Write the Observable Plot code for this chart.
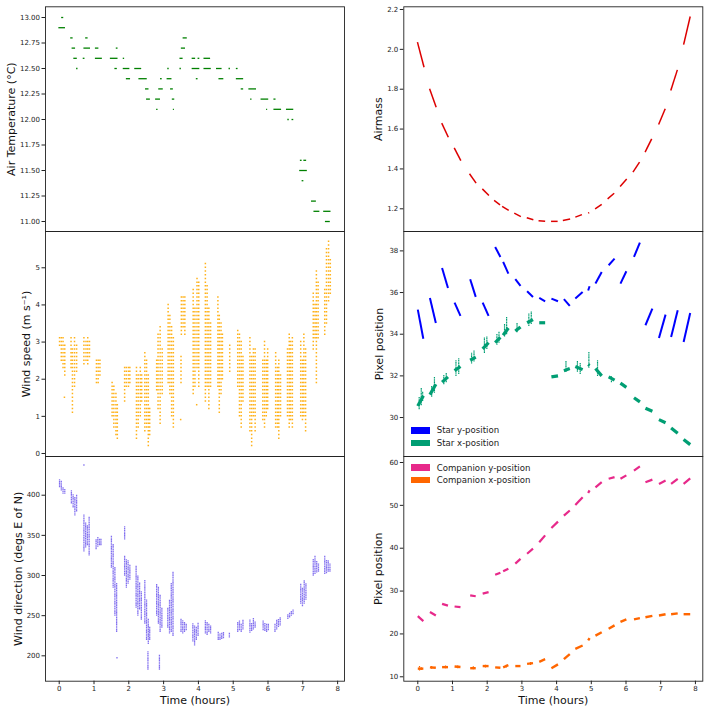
<!DOCTYPE html>
<html><head><meta charset="utf-8">
<script src="https://cdn.jsdelivr.net/npm/d3@7"></script>
<script src="https://cdn.jsdelivr.net/npm/@observablehq/plot@0.6"></script>
<style>
body{margin:0;background:#fff;}
#fig{position:relative;width:708px;height:713px;font-family:"DejaVu Sans",sans-serif;color:#222;}
#fig svg{position:absolute;overflow:visible;}
.sw{position:absolute;width:19px;height:6.6px;}
.lt{position:absolute;font-size:8.6px;line-height:10px;white-space:nowrap;color:#222;}
</style></head><body><div id="fig"></div>
<script>
// ---------- data ----------
const hourTicks = [0,1,2,3,4,5,6,7,8];
// Air temperature: horizontal runs [tStart, tEnd, °C]
const airTemp = [
[-0.01,0.18,12.9],[0.07,0.13,13.0],[0.33,0.40,12.8],[0.37,0.47,12.7],[0.42,0.52,12.6],[0.50,0.54,12.5],
[0.69,0.74,12.6],[0.71,0.90,12.7],[0.76,0.83,12.8],[1.04,1.14,12.7],[1.04,1.24,12.6],[1.47,1.69,12.6],
[1.64,1.69,12.7],[1.60,1.67,12.5],[1.84,1.88,12.6],[1.84,2.03,12.5],[1.93,2.05,12.4],[2.17,2.37,12.5],
[2.29,2.53,12.4],[2.48,2.58,12.3],[2.51,2.62,12.2],[2.77,2.91,12.2],[2.86,2.99,12.3],[2.80,2.84,12.1],
[2.91,2.96,12.4],[3.10,3.24,12.4],[3.12,3.16,12.5],[3.20,3.28,12.3],[3.25,3.32,12.2],[3.28,3.31,12.1],
[3.47,3.51,12.5],[3.47,3.56,12.6],[3.51,3.63,12.7],[3.56,3.68,12.8],[3.82,4.04,12.5],[3.82,3.92,12.6],
[3.94,3.99,12.4],[3.99,4.04,12.6],[4.16,4.35,12.6],[4.16,4.37,12.5],[4.52,4.68,12.5],[4.59,4.73,12.4],
[4.88,4.92,12.5],[5.09,5.14,12.5],[5.09,5.30,12.4],[5.23,5.30,12.3],[5.45,5.67,12.3],[5.50,5.54,12.2],
[5.80,6.02,12.2],[5.96,5.99,12.1],[6.17,6.23,12.2],[6.17,6.39,12.1],[6.53,6.74,12.1],[6.57,6.61,12.0],
[6.69,6.74,12.0],[6.91,7.13,11.5],[6.93,6.98,11.6],[7.03,7.11,11.6],[6.98,7.03,11.4],[7.25,7.39,11.2],
[7.32,7.49,11.1],[7.60,7.81,11.1],[7.65,7.79,11.0]
];
const tempTicks = [11,11.25,11.5,11.75,12,12.25,12.5,12.75,13];
// Wind speed: columns of readings [t, min, max] (m/s, 0.1 steps)
const windSpeed = [
[0.01,2.9,3.1],[0.06,2.5,3.1],[0.11,2.3,3.1],[0.16,2.1,2.9],[0.15,1.5,1.5],
[0.34,2.3,3.1],[0.38,1.1,2.8],[0.44,1.8,3.1],[0.50,2.2,2.9],
[0.71,2.4,3.1],[0.77,2.5,3.0],[0.82,2.4,3.1],[0.87,2.6,3.0],
[1.07,1.9,2.5],[1.12,1.9,2.5],[1.17,2.1,2.5],
[1.52,1.0,1.9],[1.57,0.7,1.8],[1.63,0.5,1.6],[1.67,0.4,1.3],
[1.88,1.4,2.3],[1.93,1.8,2.3],[1.99,1.8,2.3],[2.03,1.9,2.3],
[2.22,0.4,2.3],[2.27,0.7,2.1],[2.33,1.0,2.3],[2.37,1.4,2.1],
[2.46,0.6,2.7],[2.51,0.7,2.5],[2.56,0.2,2.1],[2.60,0.5,1.2],
[2.80,1.7,2.5],[2.84,1.2,3.2],[2.90,0.8,3.4],[2.96,1.6,2.8],
[3.13,1.9,4.0],[3.18,1.6,3.7],[3.23,1.0,3.4],[3.28,0.7,3.1],
[3.51,3.2,4.2],[3.56,3.4,4.2],[3.61,3.2,4.2],[3.50,1.9,2.6],[3.49,0.9,0.9],
[3.85,1.6,4.4],[3.90,1.8,3.9],[3.96,2.3,4.7],[4.01,1.8,4.6],[3.95,1.3,1.3],
[4.20,1.4,5.1],[4.25,1.8,4.5],[4.30,1.2,3.9],[4.35,1.8,3.5],
[4.56,1.8,4.2],[4.60,1.1,3.7],[4.65,1.6,3.5],[4.69,2.0,3.2],
[4.90,2.2,2.9],
[5.13,1.8,3.3],[5.18,1.0,3.2],[5.23,0.7,3.0],[5.28,1.4,2.6],
[5.48,0.6,3.1],[5.53,0.2,2.6],[5.58,1.0,2.8],[5.63,0.6,2.8],
[5.85,0.9,2.5],[5.90,0.7,3.0],[5.95,1.0,2.5],[5.99,1.2,2.8],
[6.22,0.7,2.7],[6.27,0.7,2.3],[6.31,0.4,2.5],[6.36,1.0,2.1],
[6.56,1.0,2.8],[6.61,0.7,3.2],[6.65,0.9,3.0],[6.70,0.7,3.1],
[6.94,1.0,3.0],[6.99,0.9,2.5],[7.03,1.0,3.2],[7.08,0.6,2.8],
[7.30,2.8,4.3],[7.35,3.1,4.0],[7.39,1.9,4.9],[7.44,3.1,4.6],
[7.63,3.2,4.4],[7.68,3.5,5.5],[7.74,4.1,5.7],[7.79,4.3,5.2]
];
const speedTicks = [0,1,2,3,4,5];
// Wind direction: columns of readings [t, min, max] (deg E of N)
const windDir = [
[0.01,410,420],[0.06,406,418],[0.11,402,410],[0.16,402,408],
[0.35,390,405],[0.40,385,400],[0.45,375,398],[0.50,380,400],
[0.71,330,375],[0.71,437,437],[0.76,335,365],[0.81,338,362],[0.86,325,372],
[1.06,333,345],[1.11,336,348],[1.16,338,346],[1.20,338,345],
[1.50,310,350],[1.55,285,340],[1.60,250,310],[1.65,230,290],[1.66,197,197],
[1.88,300,325],[1.93,285,320],[1.98,290,318],[2.03,295,312],[1.88,345,360],
[2.21,260,312],[2.26,250,300],[2.31,258,290],[2.36,245,280],
[2.46,240,294],[2.51,220,270],[2.56,215,245],[2.60,220,235],[2.55,183,205],
[2.80,250,290],[2.85,240,285],[2.90,230,275],[2.95,235,260],[2.88,183,200],
[3.12,235,260],[3.17,228,270],[3.22,230,290],[3.27,225,304],
[3.50,230,245],[3.55,228,243],[3.60,230,242],[3.65,232,240],
[3.84,218,240],[3.89,213,238],[3.94,220,236],[3.99,225,240],
[4.20,228,244],[4.25,226,242],[4.30,230,240],[4.35,228,238],
[4.57,220,229],[4.62,220,228],[4.67,221,228],[4.72,222,230],
[4.89,223,229],
[5.13,230,242],[5.18,232,243],[5.23,230,240],[5.28,233,244],
[5.48,229,244],[5.53,231,240],[5.58,233,246],[5.63,235,243],
[5.86,232,243],[5.91,231,241],[5.96,230,240],[6.01,232,240],
[6.20,230,240],[6.25,233,245],[6.30,236,246],[6.35,238,248],
[6.57,246,252],[6.62,248,254],[6.67,250,256],[6.72,252,258],
[6.94,265,290],[6.99,262,285],[7.04,265,293],[7.09,270,290],
[7.30,300,320],[7.35,302,325],[7.40,304,318],[7.45,305,315],
[7.63,302,325],[7.68,303,318],[7.73,305,318],[7.78,305,315]
];
const dirTicks = [200,250,300,350,400];
// Airmass: per observing block [tStart, start, tEnd, end]
const airmass = [
[-0.01,2.036,0.18,1.910],[0.34,1.802,0.53,1.710],[0.69,1.630,0.88,1.559],[1.05,1.506,1.24,1.442],
[1.49,1.376,1.68,1.329],[1.86,1.300,2.05,1.267],[2.20,1.242,2.37,1.220],[2.43,1.212,2.62,1.192],
[2.78,1.178,2.97,1.161],[3.14,1.155,3.33,1.145],[3.48,1.140,3.67,1.137],[3.84,1.137,4.03,1.137],
[4.18,1.141,4.39,1.149],[4.54,1.158,4.73,1.171],[4.91,1.178,4.94,1.181],[5.11,1.200,5.30,1.222],
[5.47,1.250,5.66,1.278],[5.83,1.312,6.02,1.350],[6.20,1.384,6.39,1.434],[6.55,1.484,6.74,1.551],
[6.94,1.623,7.13,1.702],[7.29,1.794,7.48,1.897],[7.66,2.024,7.85,2.165]
];
const airmassTicks = [1.2,1.4,1.6,1.8,2.0,2.2];
// Star pixel positions per block [tStart, start, tEnd, end]
const starY = [
[0.00,35.18,0.16,33.78],[0.35,35.74,0.52,34.54],[0.70,37.18,0.87,36.22],[1.06,35.52,1.23,34.88],
[1.51,36.64,1.67,35.79],[1.87,35.52,2.04,34.88],[2.23,38.19,2.38,37.71],[2.46,37.47,2.61,36.91],
[2.81,36.64,2.96,36.32],[3.15,36.06,3.32,35.79],[3.50,35.74,3.67,35.58],[3.85,35.71,4.04,35.58],
[4.21,35.68,4.38,35.36],[4.54,35.71,4.75,36.03],[4.91,36.10,4.95,36.30],[5.12,36.43,5.30,36.99],
[5.50,37.31,5.67,37.63],[5.84,36.43,6.01,37.02],[6.23,37.71,6.40,38.40],[6.56,34.43,6.76,35.23],
[6.95,33.82,7.14,34.94],[7.30,33.87,7.49,35.15],[7.66,33.63,7.85,35.02]
];
const starX = [
[0.00,30.55,0.16,31.05],[0.35,31.10,0.52,31.60],[0.70,31.70,0.87,31.95],[1.06,32.25,1.23,32.45],
[1.51,32.75,1.67,32.90],[1.87,33.30,2.04,33.60],[2.23,33.60,2.38,33.85],[2.46,33.95,2.61,34.30],
[2.81,34.15,2.96,34.35],[3.15,34.55,3.32,34.70],[3.50,34.55,3.67,34.55],[3.85,31.95,4.04,32.00],
[4.21,32.25,4.38,32.35],[4.54,32.45,4.75,32.30],[4.91,32.55,4.95,32.50],[5.12,32.35,5.30,32.00],
[5.50,31.95,5.67,31.80],[5.84,31.65,6.01,31.45],[6.23,30.95,6.40,30.75],[6.56,30.45,6.76,30.30],
[6.95,29.90,7.14,29.75],[7.30,29.50,7.49,29.25],[7.66,28.95,7.85,28.70]
];
// Star x-position spread [t, min, max]
const starXSpread = [
[0.04,30.4,31.0],[0.10,30.6,31.4],[0.14,30.8,31.2],[0.40,31.0,31.5],[0.48,31.2,31.9],
[0.75,31.6,32.0],[0.82,31.7,32.1],[1.10,32.0,32.7],[1.18,32.1,32.8],[1.55,32.6,33.1],
[1.62,32.7,33.2],[1.92,33.1,33.8],[1.99,33.3,33.9],[2.28,33.5,34.0],[2.34,33.6,34.1],
[2.50,33.9,34.5],[2.56,34.0,34.8],[2.86,34.1,34.5],[3.20,34.4,35.0],[3.27,34.5,35.1],
[4.27,32.2,32.7],[4.60,32.2,32.7],[4.68,32.1,32.6],[4.93,32.4,33.1],[5.18,32.0,32.7],[5.58,31.7,32.0]
];
const starTicks = [30,32,34,36,38];
const compY = [
[0.00,24.15,0.16,22.98],[0.35,25.10,0.52,24.30],[0.70,27.00,0.87,26.60],[1.06,26.40,1.23,26.25],
[1.51,29.00,1.67,28.80],[1.87,29.40,2.04,29.75],[2.23,33.80,2.38,34.30],[2.46,34.60,2.61,35.20],
[2.81,36.40,2.96,37.50],[3.15,38.70,3.32,39.90],[3.50,41.40,3.67,43.00],[3.85,44.70,4.04,46.20],
[4.21,47.60,4.38,48.80],[4.54,50.10,4.75,51.90],[4.91,52.90,4.95,53.50],[5.12,54.20,5.30,55.40],
[5.50,56.20,5.67,56.60],[5.84,56.20,6.01,57.00],[6.23,58.10,6.40,59.10],[6.56,55.40,6.76,56.00],
[6.95,55.00,7.14,55.80],[7.30,55.00,7.49,56.20],[7.66,55.00,7.85,56.30]
];
const compX = [
[0.00,11.9,0.16,11.9],[0.35,12.2,0.52,12.1],[0.70,12.25,0.87,12.25],[1.06,12.4,1.23,12.3],
[1.51,12.0,1.67,12.0],[1.87,12.5,2.04,12.5],[2.23,12.2,2.38,12.1],[2.46,12.2,2.61,12.7],
[2.81,12.5,2.96,12.5],[3.15,13.0,3.32,13.2],[3.50,13.5,3.67,14.1],[3.85,12.0,4.04,12.9],
[4.21,14.1,4.38,15.3],[4.54,16.5,4.75,17.3],[4.91,18.5,4.95,19.0],[5.12,19.6,5.30,20.4],
[5.50,21.2,5.67,22.0],[5.84,22.8,6.01,23.4],[6.23,23.4,6.40,23.7],[6.56,23.9,6.76,24.2],
[6.95,24.3,7.14,24.6],[7.30,24.6,7.49,24.8],[7.66,24.6,7.85,24.6]
];
const compXSpread = [
[0.05,11.5,12.5],[0.10,11.6,12.3],[0.40,11.9,12.5],[0.80,12.0,12.7],[1.15,12.0,12.6],
[1.60,11.8,12.3],[1.95,12.2,12.7],[2.55,12.2,12.9],[3.25,12.8,13.4]
];
const compTicks = [10,20,30,40,50,60];
const legendStar = [["Star y-position","#0000ff"],["Star x-position","#009e73"]];
const legendComp = [["Companion y-position","#e7298a"],["Companion x-position","#ff6600"]];

// ---------- layout ----------
const fig = document.getElementById("fig");
const XL = [-0.394, 8.198], XR = [-0.403, 8.213];
const C = {
  L: {left: 0, ml: 45, mr: 10, xd: XL},
  R: {left: 354, ml: 49.3, mr: 5.7, xd: XR}
};
const Rw = {
  top: {top: 0, h: 231, mt: 6.3, mb: 0},
  mid: {top: 231, h: 225, mt: 0, mb: 0},
  bot: {top: 456, h: 257, mt: 0, mb: 32.3}
};
const f0 = d => d[0], f1 = d => d[1], f2 = d => d[2], f3 = d => d[3];

function panel(col, row, o) {
  const c = C[col], r = Rw[row];
  const marks = [
    ...o.marks,
    Plot.frame({stroke: "#222", strokeWidth: 0.9}),
    Plot.axisY(o.yt, {tickSize: 3.5, tickPadding: 2, fontSize: 7, tickFormat: o.fmt, label: null}),
    Plot.text([o.label], {text: d => d, frameAnchor: "left", dx: o.ldx, rotate: -90, fontSize: 11, textAnchor: "middle", lineAnchor: "middle", fill: "#111"})
  ];
  if (row === "bot") {
    marks.push(Plot.axisX(hourTicks, {tickSize: 3.5, tickPadding: 1.5, fontSize: 7, label: null}));
    marks.push(Plot.text(["Time (hours)"], {text: d => d, frameAnchor: "bottom", dy: 19.3, fontSize: 11, lineAnchor: "middle", fill: "#111"}));
  }
  const svg = Plot.plot({
    width: 354, height: r.h,
    marginTop: r.mt, marginBottom: r.mb, marginLeft: c.ml, marginRight: c.mr,
    x: {domain: c.xd, axis: row === "bot" ? undefined : null},
    y: {domain: o.yd},
    style: {fontFamily: "DejaVu Sans, sans-serif", color: "#222", background: "transparent", overflow: "visible"},
    marks
  });
  svg.style.left = c.left + "px";
  svg.style.top = r.top + "px";
  fig.appendChild(svg);
}

// Air temperature
panel("L", "top", {
  yd: [10.902, 13.105], yt: tempTicks, fmt: d3.format(".2f"), label: "Air Temperature (°C)", ldx: -34.5,
  marks: [Plot.ruleY(airTemp, {y: f2, x1: f0, x2: f1, stroke: "green", strokeWidth: 1.3})]
});
// Wind speed
panel("L", "mid", {
  yd: [-0.081, 5.977], yt: speedTicks, fmt: d3.format("d"), label: "Wind speed (m s⁻¹)", ldx: -19.3,
  marks: [Plot.ruleX(windSpeed, {x: f0, y1: f1, y2: f2, stroke: "#ffaa00", strokeOpacity: 0.9, strokeWidth: 1.5,
    strokeDasharray: "0.001 3.713", strokeLinecap: "square"})]
});
// Wind direction
panel("L", "bot", {
  yd: [168.4, 448.2], yt: dirTicks, fmt: d3.format("d"), label: "Wind direction (degs E of N)", ldx: -27.3,
  marks: [Plot.ruleX(windDir, {x: f0, y1: f1, y2: f2, stroke: "mediumslateblue", strokeOpacity: 0.95, strokeWidth: 1.3,
    strokeDasharray: "0.001 1.7", strokeLinecap: "square"})]
});
// Airmass
panel("R", "top", {
  yd: [1.0861, 2.2135], yt: airmassTicks, fmt: d3.format(".1f"), label: "Airmass", ldx: -25.3,
  marks: [Plot.link(airmass, {x1: f0, y1: f1, x2: f2, y2: f3, stroke: "#dd0000", strokeWidth: 1.5})]
});
// Star positions
panel("R", "mid", {
  yd: [28.13, 38.93], yt: starTicks, fmt: d3.format("d"), label: "Pixel position", ldx: -24.3,
  marks: [
    Plot.ruleX(starXSpread, {x: f0, y1: f1, y2: f2, stroke: "#009e73", strokeWidth: 1.2, strokeDasharray: "0.001 1.6", strokeLinecap: "square"}),
    Plot.link(starX, {x1: f0, y1: f1, x2: f2, y2: f3, stroke: "#009e73", strokeWidth: 3.2}),
    Plot.link(starY, {x1: f0, y1: f1, x2: f2, y2: f3, stroke: "#0000ff", strokeWidth: 2})
  ]
});
// Companion positions
panel("R", "bot", {
  yd: [8.97, 61.4], yt: compTicks, fmt: d3.format("d"), label: "Pixel position", ldx: -25.8,
  marks: [
    Plot.link(compY, {x1: f0, y1: f1, x2: f2, y2: f3, stroke: "#e7298a", strokeWidth: 2.2}),
    Plot.ruleX(compXSpread, {x: f0, y1: f1, y2: f2, stroke: "#ff6600", strokeWidth: 1.2, strokeDasharray: "0.001 1.6", strokeLinecap: "square"}),
    Plot.link(compX, {x1: f0, y1: f1, x2: f2, y2: f3, stroke: "#ff6600", strokeWidth: 2.4})
  ]
});

// legends
function legend(items, x, y0, step) {
  items.forEach(([label, color], i) => {
    const y = y0 + i * step;
    const sw = document.createElement("div");
    sw.className = "sw"; sw.style.left = x + "px"; sw.style.top = y + "px"; sw.style.background = color;
    fig.appendChild(sw);
    const t = document.createElement("div");
    t.className = "lt"; t.textContent = label; t.style.left = (x + 25.7) + "px"; t.style.top = (y - 1.7) + "px";
    fig.appendChild(t);
  });
}
legend(legendStar, 411, 427, 12.7);
legend(legendComp, 411, 464.3, 12.4);
</script>
</body></html>
